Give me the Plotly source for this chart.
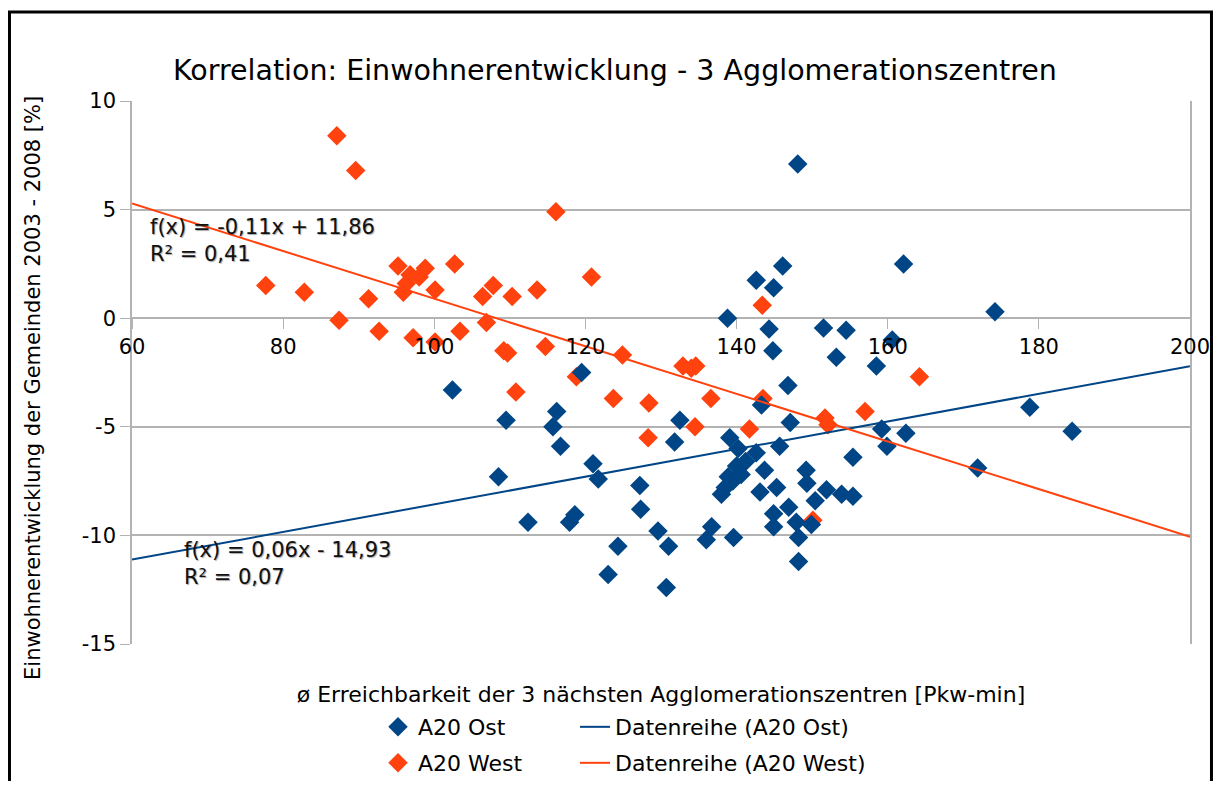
import plotly.graph_objects as go

# ---------------- data ----------------
west_x = [77.7, 82.8, 87.1, 87.4, 89.6, 91.3, 92.7, 95.2, 95.9, 96.3, 96.8, 97.2, 98.0, 98.8,
          100.1, 100.1, 102.7, 103.4, 106.4, 106.9, 107.8, 109.2, 109.7, 110.3, 110.8, 113.6,
          114.7, 116.1, 118.8, 120.8, 124.9, 123.7, 128.4, 128.3, 132.9, 134.0, 134.6, 134.5,
          136.6, 143.4, 143.5, 141.7, 151.7, 152.1, 157.0, 164.2, 150.1]
west_y = [1.5, 1.2, 8.4, -0.1, 6.8, 0.9, -0.6, 2.4, 1.2, 1.6, 2.0, -0.9, 1.9, 2.3,
          1.3, -1.1, 2.5, -0.6, 1.0, -0.2, 1.5, -1.5, -1.6, 1.0, -3.4, 1.3,
          -1.3, 4.9, -2.7, 1.9, -1.7, -3.7, -3.9, -5.5, -2.2, -2.3, -2.2, -5.0,
          -3.7, 0.6, -3.7, -5.1, -4.6, -4.9, -4.3, -2.7, -9.3]

ost_x = [102.4, 108.5, 109.5, 112.4, 115.7, 116.2, 116.7, 117.9, 118.6, 119.5, 121.0, 121.7,
         123.0, 124.3, 127.2, 127.3, 129.6, 130.7, 131.0, 131.8, 132.5, 136.0, 136.7, 138.0,
         138.5, 138.9, 138.8, 139.1, 139.6, 140.0, 140.2, 142.6, 142.6, 143.1, 143.3, 143.7,
         144.3, 144.8, 144.9, 144.9, 144.9, 145.3, 145.7, 146.1, 146.8, 146.9, 147.1, 147.9,
         148.1, 148.2, 148.2, 149.2, 149.3, 149.9, 150.4, 151.5, 151.9, 153.2, 153.9, 154.5,
         155.4, 155.4, 158.5, 159.2, 159.9, 160.6, 162.1, 162.4, 171.9, 174.2, 178.8, 184.4,
         139.5, 140.6, 141.2]
ost_y = [-3.3, -7.3, -4.7, -9.4, -5.0, -4.3, -5.9, -9.4, -9.05, -2.5, -6.7, -7.4,
         -11.8, -10.5, -7.7, -8.8, -9.8, -12.4, -10.5, -5.7, -4.7, -10.2, -9.6, -8.1,
         -7.8, -7.3, 0.0, -5.5, -10.1, -6.8, -6.0, -6.2, 1.75, -8.0, -4.0, -7.0,
         -0.5, -1.5, 1.4, -9.0, -9.6, -7.8, -5.9, 2.4, -3.1, -8.7, -4.8, -9.4,
         7.1, -10.1, -11.2, -7.0, -7.6, -9.5, -8.4, -0.45, -7.9, -1.8, -8.1, -0.55,
         -6.4, -8.2, -2.2, -5.1, -5.9, -1.0, 2.5, -5.3, -6.9, 0.3, -4.1, -5.2,
         -7.5, -7.2, -6.6]

# trend line coefficients (slope, intercept) as drawn
west_trend = (-0.1096, 11.86)
ost_trend = (0.0636, -14.93)
trend_x = [60, 200]

west_label = "f(x) = -0,11x + 11,86<br>R² = 0,41"
ost_label = "f(x) = 0,06x - 14,93<br>R² = 0,07"
y_title = "Einwohnerentwicklung der Gemeinden 2003 - 2008 [%]"
x_title = "ø Erreichbarkeit der 3 nächsten Agglomerationszentren [Pkw-min]"

x_ticks = [60, 80, 100, 120, 140, 160, 180, 200]
y_ticks = [10, 5, 0, -5, -10, -15]

BLUE = "#004586"
ORANGE = "#ff420e"
GRID = "#b3b3b3"
FONT = "DejaVu Sans, Liberation Sans, Arial, sans-serif"

fig = go.Figure()

fig.add_trace(go.Scatter(x=west_x, y=west_y, mode="markers", name="A20 West",
                         marker=dict(symbol="diamond", size=15, color=ORANGE, line=dict(width=0)),
                         legend="legend2"))
fig.add_trace(go.Scatter(x=ost_x, y=ost_y, mode="markers", name="A20 Ost",
                         marker=dict(symbol="diamond", size=15, color=BLUE, line=dict(width=0)),
                         legend="legend"))
fig.add_trace(go.Scatter(x=trend_x, y=[ost_trend[0] * v + ost_trend[1] for v in trend_x],
                         mode="lines", name="Datenreihe (A20 Ost)",
                         line=dict(color=BLUE, width=2), legend="legend3"))
fig.add_trace(go.Scatter(x=trend_x, y=[west_trend[0] * v + west_trend[1] for v in trend_x],
                         mode="lines", name="Datenreihe (A20 West)",
                         line=dict(color=ORANGE, width=2), legend="legend4"))

shadow = "1px 1px 1px rgba(0,0,0,0.35)"
fig.add_annotation(x=62.1, y=3.6, xref="x", yref="y", text=west_label, showarrow=False,
                   xanchor="left", yanchor="middle", align="left",
                   font=dict(family=FONT, size=21, color="#111111", shadow=shadow))
fig.add_annotation(x=66.6, y=-11.3, xref="x", yref="y", text=ost_label, showarrow=False,
                   xanchor="left", yanchor="middle", align="left",
                   font=dict(family=FONT, size=21, color="#111111", shadow=shadow))
# y axis title
fig.add_annotation(x=-0.0936, y=0.4715, xref="paper", yref="paper", text=y_title,
                   showarrow=False, textangle=-90, xanchor="center", yanchor="middle",
                   font=dict(family=FONT, size=21, color="black"))

# outer frame
fig.add_shape(type="rect", xref="paper", yref="paper",
              x0=-0.1158, x1=1.0203, y0=1.1639, y1=-0.35,
              line=dict(color="black", width=3), layer="above")

legend_common = dict(orientation="h", xanchor="left", yanchor="middle",
                     font=dict(family=FONT, size=22, color="black"),
                     bgcolor="rgba(0,0,0,0)", itemclick=False)

fig.update_layout(
    width=1205, height=773,
    margin=dict(l=124, r=23, t=93, b=137, autoexpand=False),
    paper_bgcolor="white", plot_bgcolor="white",
    font=dict(family=FONT, size=21, color="black"),
    title=dict(text="Korrelation: Einwohnerentwicklung - 3 Agglomerationszentren",
               x=0.5037, xref="container", xanchor="center",
               y=0.9198, yref="container", yanchor="middle",
               font=dict(family=FONT, size=28.5, color="black")),
    showlegend=True,
    legend=dict(x=0.2325, y=-0.1529, **legend_common),
    legend2=dict(x=0.2325, y=-0.2192, **legend_common),
    legend3=dict(x=0.4187, y=-0.1529, **legend_common),
    legend4=dict(x=0.4187, y=-0.2192, **legend_common),
    xaxis=dict(range=[60, 200], tickvals=x_ticks, ticktext=[str(v) for v in x_ticks],
               showgrid=False, zeroline=False, showline=False, automargin=False,
               anchor="free", position=0.6,
               ticks="outside", ticklen=10, tickcolor=GRID, tickwidth=1,
               tickfont=dict(family=FONT, size=21, color="black"),
               title=dict(text=x_title,
                          font=dict(family=FONT, size=22, color="black"), standoff=328)),
    yaxis=dict(range=[-15, 10], tickvals=y_ticks, ticktext=[str(v) for v in y_ticks],
               showgrid=True, gridcolor=GRID, gridwidth=1.5, zeroline=False, automargin=False,
               showline=True, linecolor=GRID, linewidth=1.5, mirror=True,
               ticks="outside", ticklen=10, tickcolor=GRID, tickwidth=1,
               tickfont=dict(family=FONT, size=21, color="black")),
)

fig.write_html("out.html")
